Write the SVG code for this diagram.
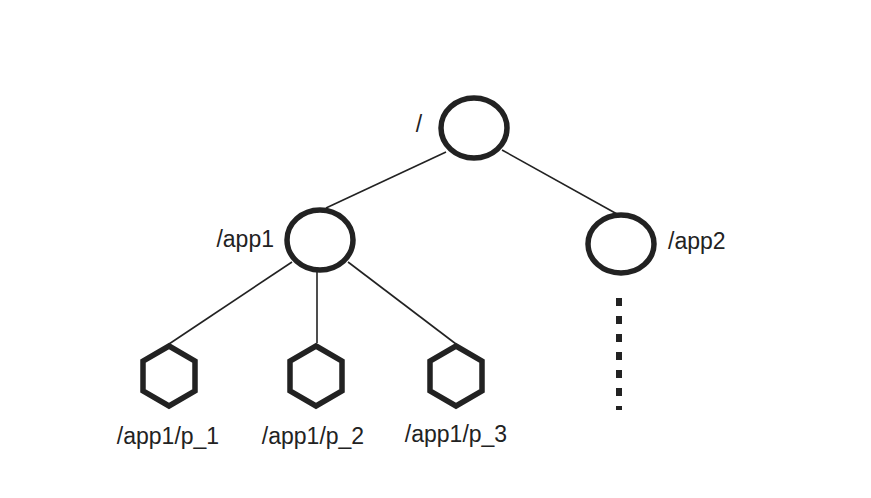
<svg xmlns="http://www.w3.org/2000/svg" width="871" height="498" viewBox="0 0 871 498">
<style>
.n{fill:#fff;stroke:#222;stroke-width:5.5}
.e{stroke:#222;stroke-width:1.6;fill:none}
text{font-family:"Liberation Sans",Arial,sans-serif;font-size:23px;fill:#222}
</style>
<rect width="871" height="498" fill="#fff"/>
<g id="connectors">
<line class="e" x1="446" y1="152" x2="326" y2="208"/>
<line class="e" x1="502" y1="150" x2="617" y2="214"/>
<line class="e" x1="292" y1="262" x2="169" y2="344"/>
<line class="e" x1="317" y1="272" x2="317" y2="343"/>
<line class="e" x1="348" y1="262" x2="456" y2="344"/>
<line x1="619" y1="298" x2="619" y2="410" stroke="#222" stroke-width="6" stroke-dasharray="8 10"/>
</g>
<g id="root"><ellipse class="n" cx="474" cy="128" rx="33" ry="30"/><text x="419" y="132" text-anchor="middle">/</text></g>
<g id="app1"><ellipse class="n" cx="320" cy="240" rx="33" ry="30"/><text x="274" y="247" text-anchor="end">/app1</text></g>
<g id="app2"><ellipse class="n" cx="621" cy="244" rx="33" ry="29"/><text x="668" y="249">/app2</text></g>
<g id="p1"><polygon class="n" points="169,346 195,361 195,391 169,406 143,391 143,361"/><text x="168" y="444" text-anchor="middle">/app1/p_1</text></g>
<g id="p2"><polygon class="n" points="316,346 342,361 342,391 316,406 290,391 290,361"/><text x="313" y="444" text-anchor="middle">/app1/p_2</text></g>
<g id="p3"><polygon class="n" points="456,346 482,361 482,391 456,406 430,391 430,361"/><text x="456" y="442" text-anchor="middle">/app1/p_3</text></g>
</svg>
